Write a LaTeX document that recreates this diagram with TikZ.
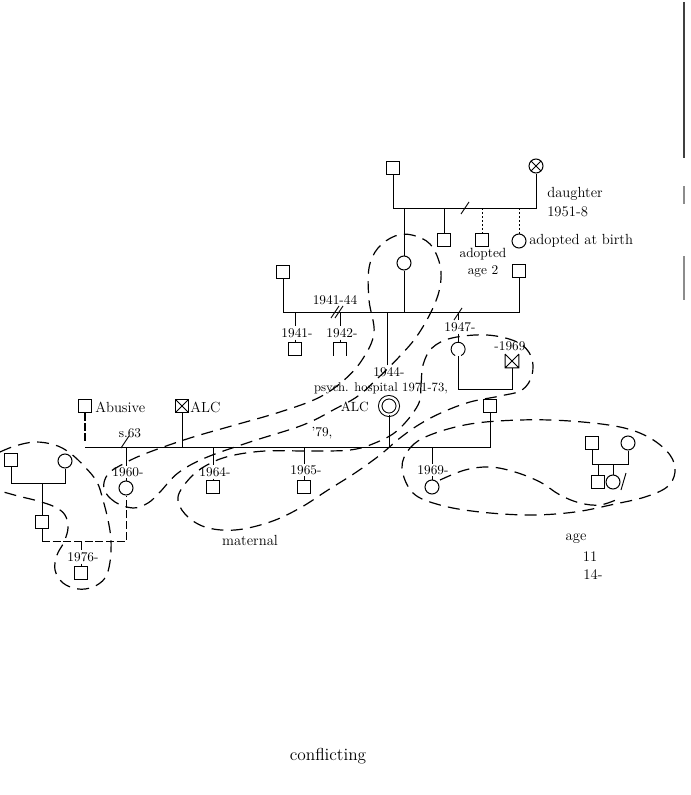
\documentclass[tikz,border=0pt]{standalone}
\usetikzlibrary{calc}
\tikzset{
    genogram/.style = {x=0.75pt, y=-0.75pt, font=\fontsize{10}{12.5}\selectfont},
    line/.style     = {line width=0.7pt},
    bond/.style     = {line width=0.9pt, dash pattern=on 9pt off 5.5pt},
    cohabit/.style  = {line, dash pattern=on 6pt off 2pt},
    adopted/.style  = {line, dash pattern=on 1.5pt off 1.5pt},
    male/.style     = {draw, line width=0.75pt, minimum size=10pt, inner sep=0pt},
    female/.style   = {draw, line width=0.75pt, circle, minimum size=10.5pt,
                       inner sep=0pt},
    blank/.style    = {minimum size=10pt, inner sep=0pt},
    dead/.style     = {path picture={
                         \draw[line] (path picture bounding box.north west)
                           -- (path picture bounding box.south east)
                           (path picture bounding box.south west)
                           -- (path picture bounding box.north east);}},
    index/.style    = {female, minimum size=13.2pt, double, double distance=1.8pt},
    year/.style     = {inner sep=1.2pt},
    note/.style     = {inner sep=0pt, align=left},
    cut/.pic        = {\draw[line] (-4,6) -- (4,-6);},
    double cut/.pic = {\draw[line] (-6,6) -- (2,-6) (-2,6) -- (6,-6);}
}
\def\firstbar{208}
\def\secondbar{312}
\def\mainbar{447}

\begin{document}
\begin{tikzpicture}[genogram]
\useasboundingbox (0,0) rectangle (691,795);

% Grandparents; two of their children were adopted.
\node[male] (gf) at (393,168) {};
\node[female, dead] (gm) at (536,166) {};
\coordinate (gbar) at (0,\firstbar);
\draw[line] (gf.south) |- (gm.south |- gbar) -- (gm.south);
\pic at (465,208) {cut};
\node[female] (mom) at (404,263) {};
\node[male] (uncle) at (444,240) {};
\node[male] (adopt two) at (482,240) {};
\node[female] (adopt birth) at (519,241) {};
\draw[line] (mom.north |- gbar) -- (mom.north);
\draw[line] (uncle.north |- gbar) -- (uncle.north);
\draw[adopted] (adopt two.north |- gbar) -- (adopt two.north);
\draw[adopted] (adopt birth.north |- gbar) -- (adopt birth.north);
\node[note, anchor=west, font=\fontsize{11}{14}\selectfont] (daughter)
  at (547,202) {daughter\\1951-8};
\node[note, align=center] (age two) at (483,263) {adopted\\age 2};
\node[note, anchor=west, font=\fontsize{11}{13}\selectfont] (birth)
  at (529,241) {adopted at birth};

% Mother with her two husbands and their children.
\node[male] (first husband) at (283,272) {};
\node[male] (second husband) at (519,271) {};
\coordinate (mbar) at (0,\secondbar);
\draw[line] (first husband.south) |- (second husband.south |- mbar)
  -- (second husband.south);
\draw[line] (mom.south) -- (mom.south |- mbar);
\pic at (337,312) {double cut};
\node[year] (div) at (335,300) {1941-44};
\node[male] (son41) at (295,349) {};
\node[year] (y41) at (297,333) {1941-};
\draw[line] (son41.north |- mbar) -- (son41.north |- y41.north);
\draw[line] (son41.north |- y41.south) -- (son41.north);
\node[blank] (son42) at (340,349) {};
\node[year] (y42) at (342,333) {1942-};
\draw[line] (son42.north |- mbar) -- (son42.north |- y42.north);
\draw[line] (son42.north |- y42.south) -- (son42.north);
\draw[line] (son42.south west) -- (son42.north west) -- (son42.north east)
  -- (son42.south east);
\node[year] (y44) at (389,372) {1944-};
\draw[line] (y44.north -| 387,0) -- (387,\secondbar);
\node[note, font=\fontsize{9.5}{11}\selectfont] (psych) at (381,388)
  {psych. hospital 1971-73,};
\node[index] (ix) at (389,406) {};
\node[note, anchor=east] (ix alc) at (369,407) {ALC};
\node[blank, circle, minimum size=10.5pt] (sis) at (458,349) {};
\node[year] (y47) at (460,327) {1947-};
\draw[line] (sis.north |- mbar) -- (sis.north |- y47.north);
\draw[line] (sis.north |- y47.south) -- (sis.north);
\pic at (458,314) {cut};
\draw[line] (sis.-65) arc[start angle=-65, end angle=245, radius=5.25pt];
\node[blank] (sis husband) at (512,361) {};
\node[year] (y69d) at (510,346) {-1969};
\draw[line] (sis husband.north west) -- (sis husband.south west)
  -- (sis husband.south east) -- (sis husband.north east)
  (sis husband.north west) -- (sis husband.south east)
  (sis husband.south west) -- (sis husband.north east);
\coordinate (sbar) at (0,389);
\draw[line] (sis.south) |- (sis husband.south |- sbar) -- (sis husband.south);

% Index woman, her three partners and children.
\node[male] (abuser) at (85,406) {};
\node[note, anchor=west, font=\fontsize{11}{13}\selectfont] (abuser note)
  at (95,407) {Abusive};
\node[male, dead] (alc) at (182,406) {};
\node[note, anchor=west, font=\fontsize{11}{13}\selectfont] (alc note)
  at (190,407) {ALC};
\node[male] (third) at (490,406) {};
\coordinate (bar) at (0,\mainbar);
\draw[line] (abuser.south |- bar) -| (third.south);
\draw[line width=1.4pt, dash pattern=on 6pt off 1.5pt]
  (abuser.south) -- ($(abuser.south |- bar)+(0,-6)$);
\draw[line] (alc.south) -- (alc.south |- bar);
\draw[line] (ix.south) -- (ix.south |- bar);
\pic at (125,442) {cut};
\node[year] (sep) at (130,433) {s.63};
\node[year] (y79) at (322,433) {'79,};
\node[female] (d60) at (126,488) {};
\node[year] (y60) at (128,472) {1960-};
\node[male] (s64) at (213,487) {};
\node[year] (y64) at (215,472) {1964-};
\node[male] (s65) at (304,487) {};
\node[year] (y65) at (306,470) {1965-};
\node[female] (d69) at (432,487) {};
\node[year] (y69) at (433,470) {1969-};
\foreach \kid/\lab in {d60/y60, s64/y64, s65/y65, d69/y69} {
  \draw[line] (\kid.north |- bar) -- (\kid.north |- \lab.north);
  \draw[line] (\kid.north |- \lab.south) -- (\kid.north);
}

% Partner's family on the left and the grandson.
\node[male] (lgf) at (11,460) {};
\node[female] (lgm) at (65,461) {};
\coordinate (lbar) at (0,483);
\draw[line] (lgf.south) |- (lgm.south |- lbar) -- (lgm.south);
\node[male] (partner) at (42,522) {};
\draw[line] (partner.north |- lbar) -- (partner.north);
\coordinate (pbar) at (0,541);
\draw[line] (partner.south) -- (partner.south |- pbar);
\draw[cohabit] (partner.south |- pbar) -| (d60.south);
\node[male] (gson) at (81,573) {};
\node[year] (y76) at (83,557) {1976-};
\draw[line] (gson.north |- pbar) -- (gson.north |- y76.north);
\draw[line] (gson.north |- y76.south) -- (gson.north);

% Family on the right.
\node[male] (rf) at (592,443) {};
\node[female] (rm) at (628,443) {};
\coordinate (rbar) at (0,464);
\draw[line] (rf.south) |- (rm.south |- rbar) -- (rm.south);
\node[male] (rs) at (598,482) {};
\node[female] (rd) at (613,482) {};
\draw[line] (rs.north |- rbar) -- (rs.north);
\draw[line] (rd.north |- rbar) -- (rd.north);
\coordinate (rstroke a) at (626,473);
\coordinate (rstroke b) at (621,490);
\draw[line] (rstroke a) -- (rstroke b);

% Free notes.
\node[note, font=\fontsize{11}{13}\selectfont] (maternal) at (250,540)
  {maternal};
\node[note, font=\fontsize{11}{13}\selectfont] (age) at (576,539) {age};
\node[note, font=\fontsize{11}{13}\selectfont] (age a) at (590,557) {11};
\node[note, font=\fontsize{11}{13}\selectfont] (age b) at (593,575) {14-};
\node[note, font=\fontsize{13}{15}\selectfont] (conflict) at (328,756)
  {conflicting};

% Dashed bonds drawn round the groups.
\draw[bond] plot[smooth cycle, tension=0.6] coordinates {
  (133,508) (115,502) (104,489) (108,474) (125,463) (147,453) (190,438)
  (235,425) (280,412) (318,398) (343,381) (362,360) (374,333) (369,300)
  (369,268) (378,248) (395,236) (412,235) (430,244) (440,265) (440,287)
  (432,310) (417,336) (400,356) (378,378) (358,396) (335,409) (303,425)
  (250,442) (205,458) (178,473) (160,492) (148,503)};
\draw[bond] plot[smooth cycle, tension=0.6] coordinates {
  (418,405) (421,385) (423,365) (432,348) (452,338) (487,335) (517,342)
  (531,356) (532,375) (522,390) (500,396) (470,402) (443,412) (420,424)
  (400,438) (380,455) (355,473) (328,490) (300,508) (270,522) (235,530)
  (205,527) (185,514) (178,497) (190,478) (207,465) (230,456) (265,451)
  (310,451) (350,450) (375,443) (398,430)};
\draw[bond] plot[smooth cycle, tension=0.6] coordinates {
  (402,468) (410,448) (430,435) (470,424) (520,420) (570,421) (620,427)
  (650,438) (670,455) (675,472) (667,487) (645,497) (615,504) (575,512)
  (530,515) (480,512) (440,505) (413,493)};
\draw[bond] plot[smooth, tension=0.6] coordinates {
  (440,480) (465,470) (490,467) (515,472) (540,482) (560,495) (580,503)
  (600,505) (618,499)};
\draw[bond] plot[smooth, tension=0.6] coordinates {
  (0,452) (15,446) (35,442) (55,445) (70,453) (85,467) (97,482) (103,500)
  (108,520) (111,540) (110,562) (105,578) (93,587) (78,589) (63,583)
  (55,570) (57,555) (64,542) (68,528) (65,515) (55,507) (38,501) (18,496)
  (0,491)};

% Marks along the right edge of the page.
\draw[line width=1.6pt, black!75] (684,2) -- (684,158);
\draw[line width=0.8pt, black!45] (684,186) -- (684,204) (684,256) -- (684,300);
\end{tikzpicture}
\end{document}
